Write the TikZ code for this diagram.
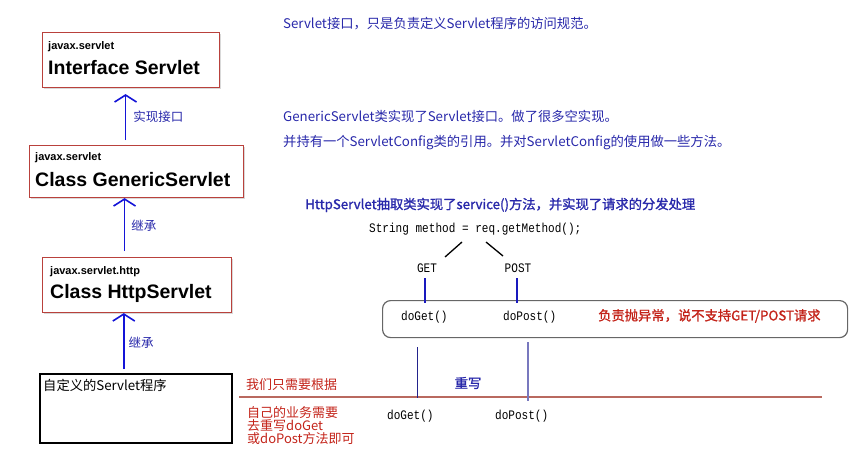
\documentclass[tikz,border=0pt]{standalone}
\usepackage{fontspec}
\setmainfont{Liberation Sans}
\newfontfamily\cjk{Noto Sans CJK SC}
\newfontfamily\cjkb[FakeBold=1.2]{Noto Sans CJK SC}
\newfontfamily\code[FakeStretch=0.85]{Liberation Mono}
\usetikzlibrary{positioning,arrows.meta,shadows}

\definecolor{noteblue}{RGB}{40,40,170}
\definecolor{arrowblue}{RGB}{20,20,215}
\definecolor{tapblue}{RGB}{25,25,190}
\definecolor{boxred}{RGB}{185,65,60}
\definecolor{notered}{RGB}{195,35,25}
\definecolor{rulered}{RGB}{185,105,95}
\definecolor{navyline}{RGB}{35,35,140}
\definecolor{slateline}{RGB}{120,120,190}

\begin{document}
\begin{tikzpicture}[x=1pt,y=-1pt]
      \tikzstyle{classbox}=[rectangle, draw=boxred, line width=1.1pt, fill=white, anchor=north west, inner sep=0pt, drop shadow={shadow xshift=1.5pt, shadow yshift=-1.5pt, opacity=0.3}]
      \tikzstyle{custombox}=[rectangle, draw=black, line width=1.6pt, fill=white, anchor=north west, inner sep=0pt]
      \tikzstyle{pkgname}=[anchor=west, inner sep=0pt, font=\bfseries\fontsize{11}{13}\selectfont]
      \tikzstyle{classname}=[anchor=west, inner sep=0pt, font=\bfseries\fontsize{19.5}{23}\selectfont]
      \tikzstyle{inherit}=[draw=arrowblue, line width=1.6pt, -{Straight Barb[length=7pt, width=22pt]}]
      \tikzstyle{lbl}=[anchor=west, inner sep=0pt, text=noteblue, font=\cjk\fontsize{12.5}{14}\selectfont]
      \tikzstyle{note}=[anchor=west, inner sep=0pt, text=noteblue, font=\cjk\fontsize{13.3}{15}\selectfont]
      \tikzstyle{boldnote}=[note, font=\cjkb\fontsize{13.3}{15}\selectfont]
      \tikzstyle{codetext}=[anchor=west, inner sep=0pt, font=\code\fontsize{13}{15}\selectfont]
      \tikzstyle{branch}=[draw=black, line width=1.3pt]
      \tikzstyle{tap}=[draw=tapblue, line width=1.5pt]
      \tikzstyle{dispatchbox}=[rectangle, rounded corners=8pt, draw=black!60, line width=1.2pt, anchor=north west, inner sep=0pt]
      \tikzstyle{rednote}=[anchor=west, inner sep=0pt, text=notered, font=\cjk\fontsize{13}{13}\selectfont]
      \tikzstyle{redrule}=[draw=rulered, line width=1.3pt]

      \useasboundingbox (0,0) rectangle (854,460);

      % class hierarchy
      \node[classbox, minimum width=177pt, minimum height=55pt] (servlet) at (42,32) {};
      \node[pkgname] at ([xshift=6pt, yshift=-15pt]servlet.north west) {javax.servlet};
      \node[classname] at ([xshift=6pt, yshift=-36pt]servlet.north west) {Interface Servlet};

      \node[classbox, minimum width=214pt, minimum height=52pt] (generic) at (29,145) {};
      \node[pkgname] at ([xshift=6pt, yshift=-13pt]generic.north west) {javax.servlet};
      \node[classname] at ([xshift=6pt, yshift=-35pt]generic.north west) {Class GenericServlet};

      \node[classbox, minimum width=189pt, minimum height=55pt] (httpservlet) at (42,257) {};
      \node[pkgname] at ([xshift=8pt, yshift=-15pt]httpservlet.north west) {javax.servlet.http};
      \node[classname] at ([xshift=8pt, yshift=-36pt]httpservlet.north west) {Class HttpServlet};

      \node[custombox, minimum width=192pt, minimum height=69pt] (custom) at (39,373) {};
      \node[note, text=black] at ([xshift=4pt, yshift=-12pt]custom.north west) {自定义的Servlet程序};

      \coordinate (implfoot) at ([xshift=-11pt]generic.north);
      \coordinate (genfoot) at ([xshift=-12.5pt]httpservlet.north);
      \coordinate (httpfoot) at ([xshift=-12pt]custom.north);
      \draw[inherit, shorten <=5pt, shorten >=6pt] (implfoot) -- (implfoot |- servlet.south) node[lbl, midway, xshift=7pt] {实现接口};
      \draw[inherit, shorten <=6pt] (genfoot) -- (genfoot |- generic.south) node[lbl, midway, xshift=6pt, yshift=2pt] {继承};
      \draw[inherit, shorten <=4pt] (httpfoot) -- (httpfoot |- httpservlet.south) node[lbl, midway, xshift=4pt] {继承};

      % notes
      \node[note] (servletnote) at (283,24) {Servlet接口，只是负责定义Servlet程序的访问规范。};
      \node[note] (genericnote) at (283,116) {GenericServlet类实现了Servlet接口。做了很多空实现。};
      \node[note] (confignote) at (283,143) {并持有一个ServletConfig类的引用。并对ServletConfig的使用做一些方法。};
      \node[boldnote] (httpnote) at (305,205) {HttpServlet抽取类实现了service()方法，并实现了请求的分发处理};

      % dispatch
      \node[codetext] (method) at (369,229) {String method = req.getMethod();};
      \node[codetext, anchor=center] (get) at (427,268) {GET};
      \node[codetext, anchor=center] (post) at (518,268) {POST};
      \coordinate (getsplit) at (462,242);
      \coordinate (getend) at (445,257);
      \coordinate (postsplit) at (486,242);
      \coordinate (postend) at (503,256);
      \draw[branch] (getsplit) -- (getend);
      \draw[branch] (postsplit) -- (postend);

      \node[dispatchbox, minimum width=465pt, minimum height=37pt] (dispatch) at (382,300) {};
      \node[codetext] (boxget) at (401,317) {doGet()};
      \node[codetext] (boxpost) at (503,317) {doPost()};
      \node[rednote, font=\cjkb\fontsize{13.3}{15}\selectfont] (refuse) at (598,316) {负责抛异常，说不支持GET/POST请求};

      \coordinate (gettap) at ([xshift=-2pt, yshift=-10pt]get.center);
      \coordinate (posttap) at ([xshift=-1pt, yshift=-10pt]post.center);
      \draw[tap, shorten >=-3pt] (gettap) -- (gettap |- dispatch.north);
      \draw[tap, shorten >=-3pt] (posttap) -- (posttap |- dispatch.north);

      % override
      \coordinate (rulestart) at (239,397);
      \coordinate (ruleend) at (822,397);
      \draw[redrule] (rulestart) -- (ruleend);

      \coordinate (getover) at (417,347);
      \coordinate (postover) at (528,342);
      \draw[draw=navyline, line width=1pt, shorten >=-1pt] (getover) -- (getover |- rulestart);
      \draw[draw=slateline, line width=1.4pt, shorten >=-4pt] (postover) -- (postover |- rulestart);

      \node[boldnote, anchor=center] (rewrite) at (468,383) {重写};
      \node[codetext] (subget) at (387,416) {doGet()};
      \node[codetext] (subpost) at (495,416) {doPost()};

      \node[rednote] (weneed) at (246,385) {我们只需要根据};
      \node[rednote, align=left] (rewritenote) at (247,426) {自己的业务需要\\去重写doGet\\或doPost方法即可};
\end{tikzpicture}
\end{document}
